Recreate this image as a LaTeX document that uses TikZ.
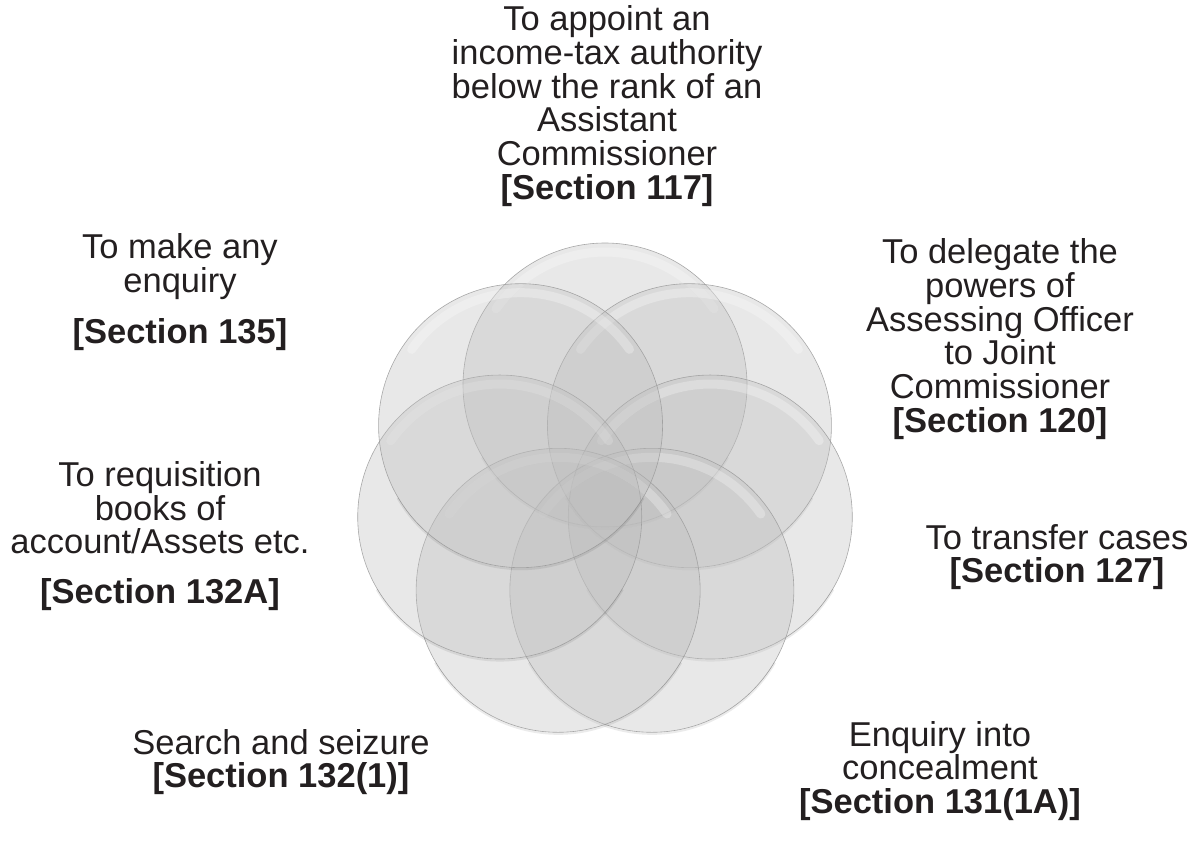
\documentclass[tikz,border=0pt]{standalone}
\usepackage{fontspec}
\setmainfont{Liberation Sans}
\usetikzlibrary{calc}
\definecolor{txt}{RGB}{35,31,32}
\definecolor{glassfill}{RGB}{188,188,188}
\definecolor{glassedge}{RGB}{155,155,155}
\tikzset{
  glass/.style={circle, minimum size=284pt, inner sep=0pt,
    fill=glassfill, fill opacity=0.34, draw=glassedge, draw opacity=0.85, line width=0.6pt},
  gloss/.style={white, line width=9pt, opacity=0.28, line cap=round},
  rim/.style={black, line width=2pt, opacity=0.08},
  lbl/.style={align=center, text=txt, inner sep=0pt,
    font=\fontsize{34.5}{33.8}\selectfont},
}
\begin{document}
\begin{tikzpicture}[x=1pt,y=-1pt]
\useasboundingbox (0,0) rectangle (1190,849);
\coordinate (ctr) at (605,493);
\foreach \i/\nm in {0/s117,6/s120,5/s127,4/s1311A,3/s1321,2/s132A,1/s135}{
  \pgfmathsetmacro{\ang}{90+\i*360/7}
  \node[glass] (\nm) at ($(ctr)+(\ang:108pt)$) {};
  \draw[gloss] ([shift={(35:133pt)}]\nm.center) arc[start angle=35,end angle=145,radius=133pt];
  \draw[rim] ([shift={(210:142pt)}]\nm.center) ++(0,1.5) arc[start angle=210,end angle=330,radius=142pt];
}
\node[lbl] (t117) at (607,106) {To appoint an\\income-tax authority\\below the rank of an\\Assistant\\Commissioner\\\textbf{[Section 117]}};
\node[lbl] (t135) at (180,292) {To make any\\enquiry\\[17pt]\textbf{[Section 135]}};
\node[lbl] (t120) at (1000,339) {To delegate the\\powers of\\Assessing Officer\\to Joint\\Commissioner\\\textbf{[Section 120]}};
\node[lbl] (t132A) at (160,536) {To requisition\\books of\\account/Assets etc.\\[16pt]\textbf{[Section 132A]}};
\node[lbl] (t127) at (1057,557) {To transfer cases\\\textbf{[Section 127]}};
\node[lbl] (t1321) at (281,762) {Search and seizure\\\textbf{[Section 132(1)]}};
\node[lbl] (t1311A) at (940,771) {Enquiry into\\concealment\\\textbf{[Section 131(1A)]}};
\end{tikzpicture}
\end{document}
